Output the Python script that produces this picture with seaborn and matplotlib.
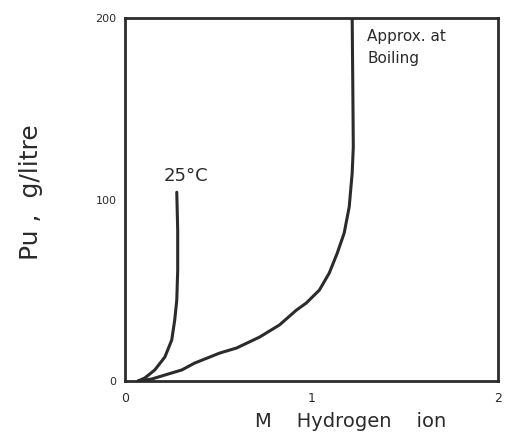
import matplotlib
matplotlib.use("Agg")
import matplotlib.pyplot as plt
import seaborn as sns
import pandas as pd

# Data (M hydrogen ion vs Pu g/litre)
x_25c = [0.070, 0.107, 0.160, 0.214, 0.251, 0.267, 0.278, 0.283, 0.283, 0.278]
y_25c = [0, 1.7, 6.1, 13.2, 22.6, 33.6, 44.6, 61, 83, 104]

x_boil = [0.070, 0.144, 0.214, 0.305, 0.374, 0.508, 0.599, 0.722, 0.829,
          0.920, 0.973, 1.043, 1.096, 1.139, 1.176, 1.203, 1.219, 1.225,
          1.223, 1.219]
y_boil = [0, 1.1, 3.3, 6.1, 9.9, 15.4, 18.2, 24.2, 30.9,
          39.1, 43.0, 50.1, 59.5, 70.5, 81.5, 95.9, 114.6, 128.9,
          155, 200]

x_ticks = [0, 0.5, 1, 1.5, 2]
x_tick_labels = ["0", "", "1", "", "2"]
y_ticks = [0, 100, 200]
y_tick_labels = ["0", "100", "200"]

df = pd.concat([
    pd.DataFrame({"x": x_25c, "y": y_25c, "curve": "25°C"}),
    pd.DataFrame({"x": x_boil, "y": y_boil, "curve": "Boiling"}),
])

sns.set_style("white")
ink = "#2b2b2b"
fig = plt.figure(figsize=(5.10, 4.41), dpi=100)
ax = fig.add_axes([0.245, 0.136, 0.731, 0.823])

sns.lineplot(data=df, x="x", y="y", units="curve", estimator=None, sort=False,
             color=ink, linewidth=2.2, ax=ax, legend=False)
for ln in ax.lines:
    ln.set_solid_joinstyle("round")
    ln.set_solid_capstyle("round")

ax.set_xlim(0, 2)
ax.set_ylim(0, 200)
ax.set_xticks(x_ticks)
ax.set_xticklabels(x_tick_labels, fontsize=9, color=ink)
ax.set_yticks(y_ticks)
ax.set_yticklabels(y_tick_labels, fontsize=8, color=ink)
ax.tick_params(axis="x", direction="inout", length=6, width=1.5, color=ink, pad=5)
ax.tick_params(axis="y", direction="out", length=4, width=1.5, color=ink, pad=2)
for s in ax.spines.values():
    s.set_visible(True)
    s.set_color(ink)
    s.set_linewidth(2.0)

ax.set_xlabel("M    Hydrogen    ion", fontsize=14, color=ink)
ax.xaxis.set_label_coords(0.605, -0.085)
ax.set_ylabel("Pu ,  g/litre", fontsize=18, color=ink)
ax.yaxis.set_label_coords(-0.22, 0.52)

ax.text(0.21, 108, "25°C", fontsize=13, color=ink, ha="left", va="bottom")
ax.text(1.30, 194, "Approx. at\nBoiling", fontsize=11, color=ink, ha="left",
        va="top", linespacing=1.6)

fig.savefig("out.png", dpi=100)
